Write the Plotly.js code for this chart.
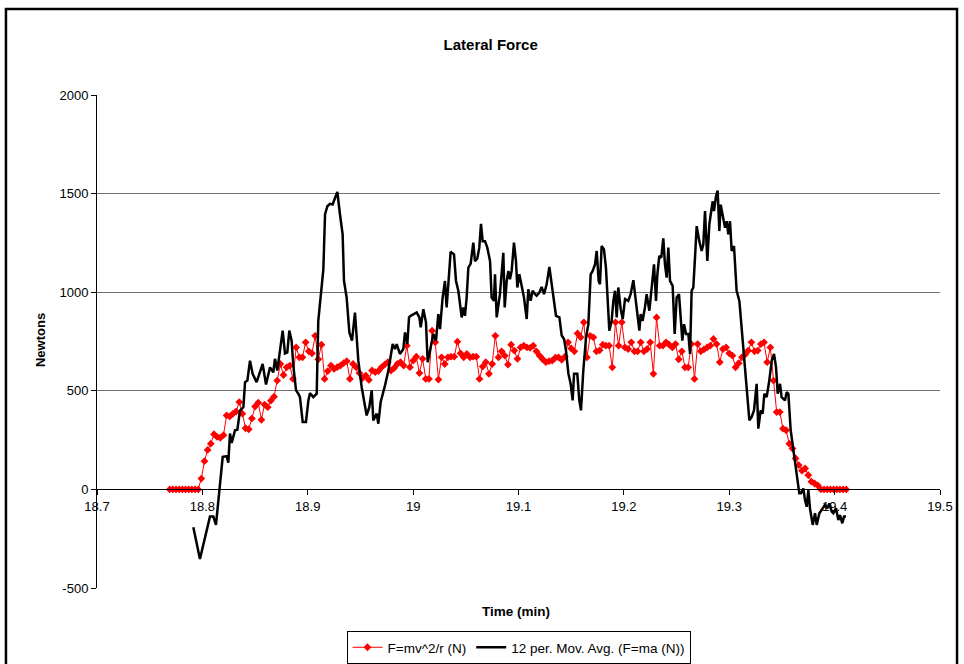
<!DOCTYPE html>
<html>
<head>
<meta charset="utf-8">
<script src="https://cdn.plot.ly/plotly-3.0.1.min.js"></script>
<style>html,body{margin:0;padding:0;background:#fff;}#chart{width:964px;height:664px;}</style>
</head>
<body>
<div id="chart"></div>
<script>
// Red series: F = m v^2 / r (N)
const redTime = [
18.769,18.772,18.775,18.778,18.781,18.784,18.787,18.790,18.793,18.796,
18.799,18.802,18.805,18.808,18.811,18.814,18.817,18.820,18.823,18.826,
18.829,18.832,18.835,18.838,18.841,18.844,18.847,18.850,18.853,18.856,
18.859,18.862,18.865,18.868,18.871,18.874,18.877,18.880,18.883,18.886,
18.889,18.892,18.895,18.898,18.901,18.904,18.907,18.910,18.913,18.916,
18.919,18.922,18.925,18.928,18.931,18.934,18.937,18.940,18.943,18.946,
18.949,18.952,18.955,18.958,18.961,18.964,18.967,18.970,18.973,18.976,
18.979,18.982,18.985,18.988,18.991,18.994,18.997,19.000,19.003,19.006,
19.009,19.012,19.015,19.018,19.021,19.024,19.027,19.030,19.033,19.036,
19.039,19.042,19.045,19.048,19.051,19.054,19.057,19.060,19.063,19.066,
19.069,19.072,19.075,19.078,19.081,19.084,19.087,19.090,19.093,19.096,
19.099,19.102,19.105,19.108,19.111,19.114,19.117,19.120,19.123,19.126,
19.129,19.132,19.135,19.138,19.141,19.144,19.147,19.150,19.153,19.156,
19.159,19.162,19.165,19.168,19.171,19.174,19.177,19.180,19.183,19.186,
19.189,19.192,19.195,19.198,19.201,19.204,19.207,19.210,19.213,19.216,
19.219,19.222,19.225,19.228,19.231,19.234,19.237,19.240,19.243,19.246,
19.249,19.252,19.255,19.258,19.261,19.264,19.267,19.270,19.273,19.276,
19.279,19.282,19.285,19.288,19.291,19.294,19.297,19.300,19.303,19.306,
19.309,19.312,19.315,19.318,19.321,19.324,19.327,19.330,19.333,19.336,
19.339,19.342,19.345,19.348,19.351,19.354,19.357,19.360,19.363,19.366,
19.369,19.372,19.375,19.378,19.381,19.384,19.387,19.390,19.393,19.396,
19.399,19.402,19.405,19.408,19.411
];
const redForce = [
0,0,0,0,0,0,0,0,0,0,
55,143,200,232,280,266,262,275,375,370,
384,395,443,384,310,305,360,420,440,353,
430,417,450,470,552,636,580,619,628,560,
720,670,670,746,700,690,779,660,734,560,
600,628,611,620,628,640,650,560,636,619,
590,565,577,555,603,595,600,619,633,645,
603,615,636,645,628,729,620,653,673,590,
662,560,560,805,746,557,670,636,670,673,
673,749,690,670,687,670,673,673,560,623,
645,586,636,779,670,700,678,633,734,704,
662,720,729,720,718,729,700,678,660,645,
650,653,668,670,657,673,746,715,700,791,
771,847,670,779,771,700,705,734,729,729,
619,847,729,847,720,712,746,700,700,746,
700,712,746,586,872,729,729,746,734,720,
737,660,700,619,619,737,560,737,700,710,
720,729,763,737,645,712,720,690,678,619,
640,670,683,704,746,700,704,737,746,645,
720,552,392,392,308,300,232,207,157,123,
95,106,72,39,30,20,0,0,0,0,
0,0,0,0,0
];

// Black series: 12 per. moving average of F = m a (N)
const avgTime = [
18.7914,18.7977,18.8072,18.8104,18.8129,18.8151,18.8193,18.8231,18.8246,18.8262,
18.8278,18.8310,18.8332,18.8357,18.8389,18.8405,18.8427,18.8452,18.8477,18.8515,
18.8541,18.8572,18.8604,18.8642,18.8673,18.8689,18.8711,18.8737,18.8762,18.8784,
18.8806,18.8825,18.8847,18.8863,18.8889,18.8911,18.8926,18.8952,18.8983,18.9006,
18.9021,18.9053,18.9085,18.9100,18.9132,18.9148,18.9164,18.9186,18.9211,18.9236,
18.9259,18.9281,18.9306,18.9331,18.9344,18.9369,18.9395,18.9420,18.9448,18.9464,
18.9480,18.9512,18.9527,18.9559,18.9584,18.9607,18.9622,18.9654,18.9670,18.9692,
18.9733,18.9765,18.9806,18.9828,18.9844,18.9875,18.9907,18.9923,18.9945,18.9961,
18.9977,19.0002,19.0034,19.0059,19.0072,19.0097,19.0122,19.0138,19.0160,19.0192,
19.0217,19.0239,19.0255,19.0280,19.0302,19.0318,19.0334,19.0356,19.0388,19.0407,
19.0429,19.0445,19.0461,19.0477,19.0492,19.0508,19.0524,19.0546,19.0571,19.0587,
19.0609,19.0628,19.0644,19.0660,19.0682,19.0704,19.0730,19.0745,19.0767,19.0777,
19.0793,19.0824,19.0856,19.0869,19.0888,19.0904,19.0919,19.0935,19.0957,19.0976,
19.0989,19.1008,19.1030,19.1052,19.1078,19.1093,19.1115,19.1134,19.1157,19.1172,
19.1198,19.1220,19.1242,19.1267,19.1293,19.1315,19.1331,19.1356,19.1388,19.1410,
19.1432,19.1451,19.1473,19.1495,19.1514,19.1527,19.1558,19.1577,19.1593,19.1615,
19.1641,19.1663,19.1685,19.1704,19.1726,19.1742,19.1761,19.1773,19.1789,19.1811,
19.1830,19.1843,19.1862,19.1884,19.1900,19.1916,19.1932,19.1947,19.1970,19.1989,
19.2011,19.2042,19.2064,19.2090,19.2115,19.2147,19.2159,19.2178,19.2200,19.2216,
19.2242,19.2264,19.2286,19.2305,19.2318,19.2336,19.2355,19.2374,19.2390,19.2406,
19.2422,19.2438,19.2463,19.2482,19.2501,19.2523,19.2539,19.2555,19.2571,19.2590,
19.2612,19.2628,19.2643,19.2659,19.2675,19.2691,19.2716,19.2738,19.2754,19.2770,
19.2792,19.2811,19.2824,19.2843,19.2855,19.2874,19.2890,19.2906,19.2919,19.2938,
19.2960,19.2976,19.2991,19.3007,19.3023,19.3045,19.3070,19.3096,19.3118,19.3140,
19.3165,19.3191,19.3213,19.3235,19.3260,19.3276,19.3298,19.3317,19.3333,19.3355,
19.3380,19.3403,19.3425,19.3444,19.3460,19.3482,19.3497,19.3529,19.3545,19.3561,
19.3583,19.3608,19.3634,19.3665,19.3681,19.3703,19.3719,19.3735,19.3751,19.3766,
19.3792,19.3814,19.3830,19.3855,19.3887,19.3909,19.3931,19.3950,19.3972,19.3988,
19.4013,19.4035,19.4051,19.4073,19.4089,19.4108
];
const avgForce = [
-192,-353,-138,-138,-180,-54,165,168,135,283,
236,300,303,400,417,544,552,653,586,544,
586,636,532,619,594,662,603,720,805,690,
695,805,754,628,502,485,468,342,342,451,
488,468,485,855,1057,1116,1394,1436,1448,1445,
1478,1508,1394,1293,1057,973,796,754,897,788,
653,518,468,375,417,502,350,384,333,443,
527,603,737,712,737,687,712,796,737,872,
880,889,897,872,822,914,847,645,712,788,
754,889,813,973,1057,923,1040,1205,1192,1057,
1007,923,872,923,880,973,1124,1145,1251,1158,
1171,1226,1347,1259,1259,1226,1158,973,956,1091,
872,990,1200,923,1057,1108,1066,1108,1251,1158,
1024,1091,1024,973,864,1015,956,1007,990,982,
998,1027,990,1040,1128,1040,956,880,872,780,
763,704,589,535,451,586,586,451,401,603,
771,838,1091,1108,1141,1209,1057,1040,1234,1217,
1124,990,805,855,956,1007,872,1024,914,864,
965,956,990,1061,956,805,889,855,923,990,
906,1007,1141,956,1091,1184,1175,1273,1141,1074,
1226,1057,1032,788,973,990,855,754,838,788,
788,687,1007,1024,1175,1335,1259,1209,1243,1411,
1158,1343,1394,1461,1411,1487,1515,1310,1444,1394,
1327,1360,1293,1360,1209,1234,1007,956,822,687,
535,350,367,401,535,308,401,384,485,468,
552,653,687,619,485,535,468,451,493,485,
300,199,88,-20,-20,5,-54,-88,-3,-96,
-180,-121,-180,-121,-96,-79,-96,-71,-113,-121,
-96,-155,-130,-172,-138,-138
];

const yTickValues = [-500, 0, 500, 1000, 1500, 2000];
const yTickLabels = ['-500', '0', '500', '1000', '1500', '2000'];
const xTickValues = [18.7, 18.8, 18.9, 19.0, 19.1, 19.2, 19.3, 19.4, 19.5];
const xTickLabels = ['18.7', '18.8', '18.9', '19', '19.1', '19.2', '19.3', '19.4', '19.5'];

const seriesNames = ['F=mv^2/r (N)', '12 per. Mov. Avg. (F=ma (N))'];
const chartTitle = 'Lateral Force';
const xTitle = 'Time (min)';
const yTitle = 'Newtons';

const FONT = 'Arial, "Liberation Sans", sans-serif';

const traces = [
  {
    x: redTime, y: redForce, name: seriesNames[0],
    type: 'scatter', mode: 'lines+markers',
    line: {color: '#FF0000', width: 1},
    marker: {symbol: 'diamond', size: 6, color: '#FF0000', line: {width: 0}},
    cliponaxis: false
  },
  {
    x: avgTime, y: avgForce, name: seriesNames[1],
    type: 'scatter', mode: 'lines',
    line: {color: '#000000', width: 2.5}
  }
];

const layout = {
  width: 964, height: 664,
  margin: {l: 97, r: 24, t: 95, b: 76, autoexpand: false},
  paper_bgcolor: '#FFFFFF', plot_bgcolor: '#FFFFFF',
  font: {family: FONT, size: 13, color: '#000000'},
  title: {
    text: '<b>' + chartTitle + '</b>',
    font: {family: FONT, size: 15, color: '#000000'},
    x: 0.509, xref: 'container', xanchor: 'center',
    y: 0.932, yref: 'container', yanchor: 'middle'
  },
  xaxis: {
    range: [18.7, 19.5], tickmode: 'array', tickvals: xTickValues, ticktext: xTickLabels,
    anchor: 'free', position: 0.2,
    showline: true, linecolor: '#000000', linewidth: 1,
    ticks: 'outside', ticklen: 5, tickcolor: '#000000', tickwidth: 1,
    showgrid: false, zeroline: false,
    tickfont: {family: FONT, size: 13, color: '#000000'}
  },
  yaxis: {
    range: [-500, 2000], tickmode: 'array', tickvals: yTickValues, ticktext: yTickLabels,
    showline: true, linecolor: '#000000', linewidth: 1,
    ticks: 'outside', ticklen: 5, tickcolor: '#000000', tickwidth: 1,
    showgrid: true, gridcolor: '#707070', gridwidth: 1,
    zeroline: false,
    tickfont: {family: FONT, size: 13, color: '#000000'}
  },
  legend: {
    orientation: 'h', x: 0.5, xanchor: 'center', xref: 'paper',
    y: 0.0497, yanchor: 'top', yref: 'container',
    bordercolor: '#000000', borderwidth: 1, bgcolor: '#FFFFFF',
    font: {family: FONT, size: 13.5, color: '#000000'},
    tracegroupgap: 0, itemwidth: 30
  },
  annotations: [
    {text: '<b>' + xTitle + '</b>', xref: 'paper', yref: 'paper',
     x: 0.497, y: -0.0467, xanchor: 'center', yanchor: 'middle',
     showarrow: false, font: {family: FONT, size: 13.5, color: '#000000'}},
    {text: '<b>' + yTitle + '</b>', xref: 'paper', yref: 'paper',
     x: -0.0676, y: 0.503, xanchor: 'center', yanchor: 'middle', textangle: -90,
     showarrow: false, font: {family: FONT, size: 13, color: '#000000'}}
  ],
  shapes: [
    {type: 'rect', xref: 'paper', yref: 'paper',
     x0: -0.108, x1: 1.0202, y0: -0.25, y1: 1.1744,
     line: {color: '#000000', width: 2.5}, fillcolor: 'rgba(0,0,0,0)', layer: 'above'}
  ],
  showlegend: true
};

Plotly.newPlot('chart', traces, layout, {displayModeBar: false, staticPlot: true});
</script>
</body>
</html>
